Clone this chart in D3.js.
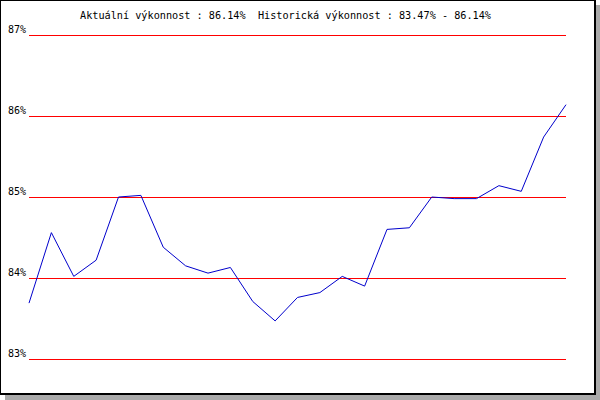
<!DOCTYPE html>
<html>
<head>
<meta charset="utf-8">
<script src="https://cdn.jsdelivr.net/npm/d3@7/dist/d3.min.js"></script>
<style>
  html, body { margin: 0; padding: 0; background: #fff; }
  svg { display: block; }
  text { font-family: "DejaVu Sans Mono", "Liberation Mono", monospace; }
</style>
</head>
<body>
<svg id="chart" width="600" height="400"></svg>
<script>
// ---- data ----
const titleText = "Aktuální výkonnost : 86.14%  Historická výkonnost : 83.47% - 86.14%";
const tickValues = [83, 84, 85, 86, 87];
const tickLabels = ["83%", "84%", "85%", "86%", "87%"];
const performance = [
  83.69, 84.56, 84.02, 84.22, 85.00, 85.02, 84.38, 84.15, 84.06, 84.13,
  83.71, 83.47, 83.76, 83.82, 84.02, 83.90, 84.60, 84.62, 85.00, 84.98,
  84.98, 85.14, 85.07, 85.74, 86.14
];

// ---- layout ----
const W = 600, H = 400;
const plotLeft = 29, plotRight = 566, plotTop = 35, plotBottom = 359;

const svg = d3.select("#chart");

// shadow + frame
svg.append("rect").attr("x", 5).attr("y", 5).attr("width", 595).attr("height", 395).attr("fill", "#aaaaaa");
svg.append("rect").attr("x", 0).attr("y", 0).attr("width", 596).attr("height", 395).attr("fill", "#000");
svg.append("rect").attr("x", 1).attr("y", 1).attr("width", 593).attr("height", 392).attr("fill", "#fff");

const x = d3.scalePoint()
  .domain(d3.range(performance.length))
  .range([plotLeft, plotRight]);

const y = d3.scaleLinear()
  .domain([83, 87])
  .range([plotBottom, plotTop]);

// y axis with red grid lines
const axis = d3.axisLeft(y)
  .tickValues(tickValues)
  .tickFormat((d, i) => tickLabels[i])
  .tickSizeInner(-(plotRight - plotLeft))
  .tickSizeOuter(0)
  .tickPadding(3);

const gAxis = svg.append("g")
  .attr("transform", `translate(${plotLeft},0)`)
  .call(axis);
gAxis.select(".domain").remove();
gAxis.selectAll(".tick line")
  .attr("stroke", "#ff0000")
  .attr("stroke-width", 1)
  .attr("shape-rendering", "crispEdges");
gAxis.selectAll(".tick text")
  .attr("fill", "#000")
  .attr("font-size", "10px")
  .attr("font-family", "'DejaVu Sans Mono', monospace")
  .attr("dy", null)
  .attr("y", -3);

// line
const line = d3.line()
  .x((d, i) => x(i))
  .y(d => y(d));

svg.append("path")
  .datum(performance)
  .attr("fill", "none")
  .attr("stroke", "#0000cc")
  .attr("stroke-width", 1)
  .attr("d", line);

// title
svg.append("text")
  .attr("x", 285.5)
  .attr("y", 19)
  .attr("text-anchor", "middle")
  .attr("font-size", "10.2px")
  .attr("fill", "#000")
  .attr("xml:space", "preserve")
  .style("white-space", "pre")
  .text(titleText);
</script>
</body>
</html>
